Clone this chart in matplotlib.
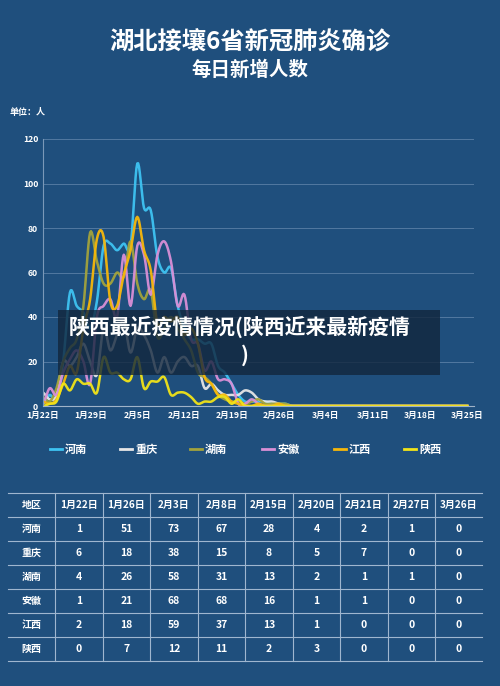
import numpy as np
import matplotlib
matplotlib.use("Agg")
import matplotlib.pyplot as plt
from matplotlib.patches import Rectangle

plt.rcParams['font.family'] = ['Noto Sans CJK SC', 'DejaVu Sans']

provinces = ['河南', '重庆', '湖南', '安徽', '江西', '陕西']
colors = ['#3ec3f2', '#e6e6e6', '#a3a33c', '#d98fd6', '#f6b70a', '#f2e418']
henan = [1,5,3,20,51,45,42,35,47,72,73,70,73,72,109,89,88,67,60,62,45,35,30,30,28,28,18,15,10,5,2,2,2,2,1,1,1]
chongqing = [6,3,5,20,18,22,28,20,14,35,25,32,38,24,35,32,25,15,22,15,20,22,18,18,8,10,7,5,5,5,7,6,3,2,2,1,0]
hunan = [4,2,8,20,26,30,45,78,65,55,55,60,58,74,55,48,52,31,35,40,35,30,25,15,13,10,5,3,2,2,1,2,3,1,1,1,1]
anhui = [1,8,5,15,21,25,20,10,40,45,48,40,68,45,72,68,50,68,74,65,45,50,30,28,16,20,12,12,10,1,1,3,1,0,0,0,0]
jiangxi = [2,1,3,10,18,15,35,48,75,76,47,45,59,70,85,70,61,37,40,38,40,32,35,28,13,10,5,5,2,1,0,0,1,0,0,1,0]
shaanxi = [0,1,2,10,7,12,10,10,6,22,15,15,12,12,22,8,11,11,13,5,6,6,4,1,2,2,4,4,1,3,0,0,0,0,0,0,0]
series = [henan, chongqing, hunan, anhui, jiangxi, shaanxi]
n_days = 64
xtick_labels = ['1月22日','1月29日','2月5日','2月12日','2月19日','2月26日','3月4日','3月11日','3月18日','3月25日']

table_cols = ['地区','1月22日','1月26日','2月3日','2月8日','2月15日','2月20日','2月21日','2月27日','3月26日']
table_vals = [
    [1,51,73,67,28,4,2,1,0],
    [6,18,38,15,8,5,7,0,0],
    [4,26,58,31,13,2,1,1,0],
    [1,21,68,68,16,1,1,0,0],
    [2,18,59,37,13,1,0,0,0],
    [0,7,12,11,2,3,0,0,0],
]

BG = '#1f4f7d'
W, H = 500, 686
fig = plt.figure(figsize=(5, 6.86), dpi=100, facecolor=BG)

def fx(px): return px / W
def fy(py): return 1 - py / H

fig.text(0.5, fy(42), '湖北接壤6省新冠肺炎确诊', ha='center', va='center', color='white', fontsize=17.5, fontweight='bold')
fig.text(0.5, fy(70), '每日新增人数', ha='center', va='center', color='white', fontsize=14, fontweight='bold')
fig.text(fx(10), fy(113), '单位：人', ha='left', va='center', color='white', fontsize=6.5, fontweight='bold')

def smooth(y, k=8):
    y = np.asarray(y, float)
    y = np.concatenate([y, np.zeros(n_days - len(y))])
    x = np.arange(len(y))
    p = np.concatenate([[y[0]], y, [y[-1]]])
    xs, ys = [], []
    for i in range(len(y) - 1):
        p0, p1, p2, p3 = p[i], p[i+1], p[i+2], p[i+3]
        for t in np.linspace(0, 1, k, endpoint=False):
            v = 0.5*((2*p1) + (-p0+p2)*t + (2*p0-5*p1+4*p2-p3)*t*t + (-p0+3*p1-3*p2+p3)*t**3)
            xs.append(x[i] + t); ys.append(max(v, 0))
    xs.append(x[-1]); ys.append(y[-1])
    return np.array(xs), np.array(ys)

ax = fig.add_axes([fx(43), fy(406), fx(474) - fx(43), fy(139) - fy(406)])
ax.set_facecolor(BG)
for s, c in zip(series, colors):
    xs, ys = smooth(s)
    ax.plot(xs, ys, color=c, lw=1.8, alpha=0.95)
ax.set_xlim(0, 64)
ax.set_ylim(0, 120)
ax.set_yticks(range(0, 121, 20))
ax.set_xticks(range(0, 64, 7))
ax.set_xticklabels(xtick_labels)
ax.grid(axis='y', color='#5a7fa6', lw=0.6)
ax.set_axisbelow(True)
for sp in ['top', 'right']:
    ax.spines[sp].set_visible(False)
ax.spines['left'].set_color('#7a98b8')
ax.spines['bottom'].set_color('#9fb3c8')
ax.tick_params(colors='white', labelsize=6.2, length=0)
for t in ax.get_xticklabels() + ax.get_yticklabels():
    t.set_fontweight('bold')

# legend
lx = [50, 120, 190, 262, 334, 404]
for name, c, x0 in zip(provinces, colors, lx):
    fig.add_artist(plt.Line2D([fx(x0), fx(x0 + 12)], [fy(449), fy(449)], color=c, lw=2))
    fig.text(fx(x0 + 15), fy(449), name, color='white', fontsize=8, fontweight='bold', va='center')

# overlay
fig.add_artist(Rectangle((fx(58), fy(375)), fx(440) - fx(58), fy(310) - fy(375), transform=fig.transFigure,
                         facecolor='#12263d', alpha=0.8, edgecolor='none'))
fig.text(fx(69), fy(327), '陕西最近疫情情况(陕西近来最新疫情', color='white', fontsize=15, fontweight='bold', va='center')
fig.text(fx(245), fy(355), ')', color='white', fontsize=15, fontweight='bold', va='center', ha='center')

# table
col_x = [8, 55, 103, 150, 198, 245, 293, 340, 388, 435, 482]
row_y = [493, 517, 541, 565, 589, 613, 637, 661]
lc = '#9fb6cf'
for y in row_y:
    fig.add_artist(plt.Line2D([fx(8), fx(482)], [fy(y), fy(y)], color=lc, lw=0.8))
for x in col_x[1:-1]:
    fig.add_artist(plt.Line2D([fx(x), fx(x)], [fy(493), fy(661)], color=lc, lw=0.8))
for j, h in enumerate(table_cols):
    cx = (col_x[j] + col_x[j + 1]) / 2
    fig.text(fx(cx), fy(505), h, ha='center', va='center', color='white', fontsize=7.2, fontweight='bold')
for i, (name, row) in enumerate(zip(provinces, table_vals)):
    cy = (row_y[i + 1] + row_y[i + 2]) / 2
    fig.text(fx((col_x[0] + col_x[1]) / 2), fy(cy), name, ha='center', va='center', color='white', fontsize=7.2, fontweight='bold')
    for j, v in enumerate(row):
        cx = (col_x[j + 1] + col_x[j + 2]) / 2
        fig.text(fx(cx), fy(cy), str(v), ha='center', va='center', color='white', fontsize=7.5, fontweight='bold')

fig.savefig('out.png', dpi=100, facecolor=BG)
